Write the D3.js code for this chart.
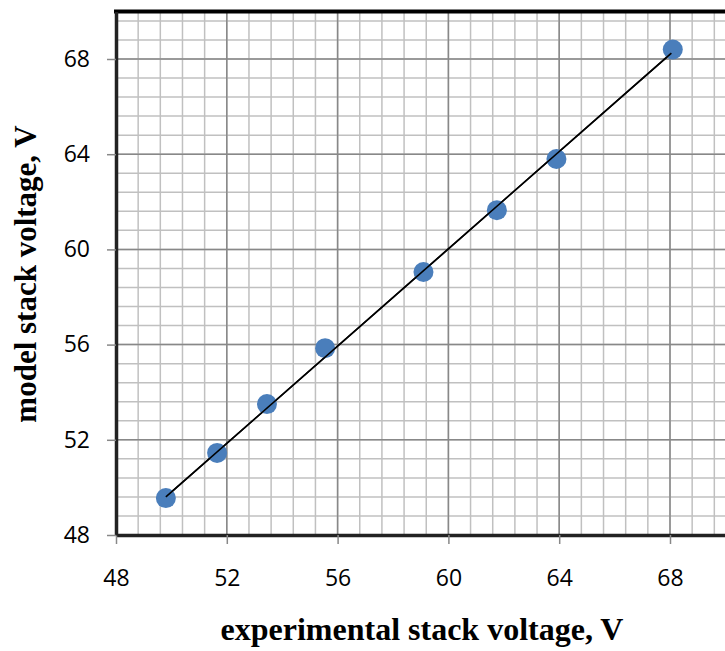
<!DOCTYPE html>
<html lang="en">
<head>
<meta charset="UTF-8">
<title>Model vs experimental stack voltage</title>
<script src="https://d3js.org/d3.v7.min.js"></script>
<style>
  body { margin: 0; background: #fff; }
  svg { display: block; }
</style>
</head>
<body>
<svg width="725" height="651"></svg>
<script>
// measured (experimental) vs modelled stack voltage, V
const experimental = [49.8, 51.65, 53.45, 55.55, 59.1, 61.75, 63.9, 68.1];
const model        = [49.55, 51.45, 53.5, 55.85, 59.05, 61.65, 63.8, 68.4];
// trend line end points
const fitX = [49.8, 68.05];
const fitY = [49.6, 68.25];
const majorTicks = [48, 52, 56, 60, 64, 68];
const domain = [48, 70];

const svg = d3.select("svg");
const margin = { left: 116, bottom: 535 };

const x = d3.scaleLinear().domain(domain).range([margin.left, margin.left + 22 * 27.7]);
const y = d3.scaleLinear().domain(domain).range([margin.bottom, margin.bottom - 22 * 23.8]);

// minor grid every 0.8
const minor = d3.range(48, 70.01, 0.8).map(v => +v.toFixed(2));
const grid = svg.append("g");
grid.selectAll(".mx").data(minor).enter().append("line")
  .attr("x1", d => x(d)).attr("x2", d => x(d))
  .attr("y1", y(70)).attr("y2", y(48))
  .attr("stroke", "#c0c0c0").attr("stroke-width", 1.5);
grid.selectAll(".my").data(minor).enter().append("line")
  .attr("y1", d => y(d)).attr("y2", d => y(d))
  .attr("x1", x(48)).attr("x2", x(70))
  .attr("stroke", "#c0c0c0").attr("stroke-width", 1.5);
// major grid
grid.selectAll(".Mx").data(majorTicks).enter().append("line")
  .attr("x1", d => x(d)).attr("x2", d => x(d))
  .attr("y1", y(70)).attr("y2", y(48))
  .attr("stroke", "#888").attr("stroke-width", 1.5);
grid.selectAll(".My").data(majorTicks).enter().append("line")
  .attr("y1", d => y(d)).attr("y2", d => y(d))
  .attr("x1", x(48)).attr("x2", x(70))
  .attr("stroke", "#888").attr("stroke-width", 1.5);

// top border
svg.append("line")
  .attr("x1", x(48) - 2).attr("x2", x(70))
  .attr("y1", y(70)).attr("y2", y(70))
  .attr("stroke", "#000").attr("stroke-width", 4);

// axes
const xAxis = svg.append("g")
  .attr("transform", `translate(0,${y(48)})`)
  .call(d3.axisBottom(x).tickValues(majorTicks).tickSize(9).tickPadding(34).tickSizeOuter(0));
const yAxis = svg.append("g")
  .attr("transform", `translate(${x(48)},0)`)
  .call(d3.axisLeft(y).tickValues(majorTicks).tickSize(9).tickPadding(17).tickSizeOuter(0));
[xAxis, yAxis].forEach(a => {
  a.attr("font-family", "'Open Sans', Lato, sans-serif").attr("font-size", 23);
  a.select(".domain").attr("stroke", "#222").attr("stroke-width", 3.5);
  a.selectAll(".tick line").attr("stroke", "#888").attr("stroke-width", 1.5);
  a.selectAll(".tick text").attr("fill", "#000");
});
xAxis.selectAll(".tick text").attr("dy", "0.35em");

// trend line
svg.append("line")
  .attr("x1", x(fitX[0])).attr("y1", y(fitY[0]))
  .attr("x2", x(fitX[1])).attr("y2", y(fitY[1]))
  .attr("stroke", "#000").attr("stroke-width", 1.6);

// points
svg.selectAll(".pt").data(experimental).enter().append("circle")
  .attr("class", "pt")
  .attr("cx", d => x(d))
  .attr("cy", (d, i) => y(model[i]))
  .attr("r", 10)
  .attr("fill", "#4a7ebb");

// line drawn again over the markers, as in the original
svg.append("line")
  .attr("x1", x(fitX[0])).attr("y1", y(fitY[0]))
  .attr("x2", x(fitX[1])).attr("y2", y(fitY[1]))
  .attr("stroke", "#000").attr("stroke-width", 1.6);

// axis titles
const titleFont = "'Liberation Serif', 'Times New Roman', serif";
svg.append("text")
  .attr("x", 422).attr("y", 640)
  .attr("text-anchor", "middle")
  .attr("font-family", titleFont).attr("font-weight", "bold").attr("font-size", 32)
  .text("experimental stack voltage, V");
svg.append("text")
  .attr("transform", "translate(36,274) rotate(-90)")
  .attr("text-anchor", "middle")
  .attr("font-family", titleFont).attr("font-weight", "bold").attr("font-size", 31)
  .text("model stack voltage, V");
</script>
</body>
</html>
